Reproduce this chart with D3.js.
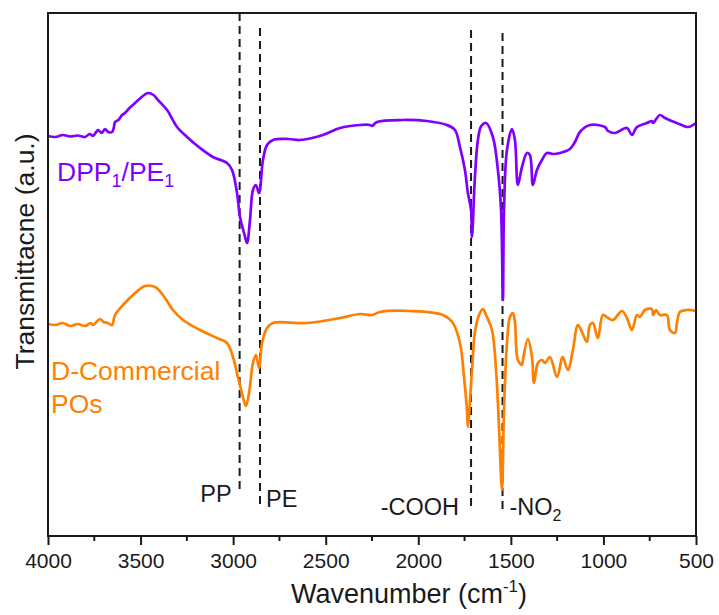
<!DOCTYPE html>
<html>
<head>
<meta charset="utf-8">
<script src="https://cdn.jsdelivr.net/npm/d3@7"></script>
<style>
  html, body { margin: 0; padding: 0; background: #fff; }
  svg { display: block; }
  text { font-family: "Liberation Sans", Arial, sans-serif; }
</style>
</head>
<body>
<svg id="chart" width="719" height="615"></svg>
<script>
// FTIR spectra: wavenumber (cm-1) and transmittance (a.u., curves offset vertically)
const dppWavenumber = [4000,3960,3920,3880,3840,3800,3775,3757,3740,3730,3710,3692,3675,3654,3645,3638,3620,3600,3584,3560,3530,3500,3480,3460,3430,3406,3357,3303,3249,3179,3109,3033,3006,2979,2963,2941,2925,2909,2893,2877,2860,2839,2817,2785,2700,2639,2515,2423,2315,2261,2250,2223,2083,1953,1845,1802,1775,1748,1732,1715,1710,1694,1678,1660,1634,1597,1570,1553,1543,1537,1521,1494,1478,1462,1440,1413,1397,1381,1359,1332,1305,1272,1235,1181,1154,1127,1073,992,975,938,873,846,819,765,738,732,695,668,603,543,500];
const dppTransmittance = [80,79.8,80.2,79.9,80.1,79.8,80.4,80.0,80.8,81.2,80.6,81.4,80.8,80.8,81.6,82.8,83.2,84.2,84.6,85.6,86.6,87.6,88.2,88.6,88.2,87.2,85.2,81.8,79.8,77.6,75.8,74.6,73.2,68.6,63.8,60.6,58.6,63.2,69.2,70.2,68.6,75.2,78.2,79.2,79.4,79.2,80.2,81.6,82.2,82.2,82.0,82.8,83.2,83.0,82.2,81.2,77.8,73.2,68.6,65.2,59.8,71.8,79.2,82.0,82.6,79.8,73.2,65.2,47.2,65.2,77.2,81.4,79.2,70.2,73.8,76.6,76.2,70.2,73.2,75.2,76.6,76.4,76.6,77.4,78.8,80.8,82.2,81.8,81.0,80.6,81.6,80.2,81.8,82.6,83.0,82.6,84.2,83.6,82.6,81.8,82.6];

const poWavenumber = [4000,3960,3920,3880,3840,3800,3770,3757,3719,3700,3676,3654,3638,3595,3541,3476,3422,3379,3325,3271,3179,3087,3033,3001,2974,2947,2931,2914,2893,2877,2860,2844,2817,2785,2601,2423,2315,2250,2207,2045,1867,1813,1775,1753,1737,1732,1710,1694,1672,1651,1634,1602,1580,1564,1548,1537,1521,1505,1489,1478,1462,1440,1435,1408,1386,1375,1354,1332,1316,1289,1251,1224,1219,1192,1165,1138,1116,1089,1073,1057,1030,1003,975,948,900,873,846,819,803,776,738,732,716,695,657,641,614,603,587,549,500];
const poTransmittance = [42.4,42.2,42.6,42.0,42.4,42.0,42.6,42.2,43.4,42.8,42.6,42.2,44.2,46.2,48.2,50.0,49.8,48.2,45.2,43.2,41.2,39.6,38.6,35.8,31.8,27.8,26.0,28.6,34.6,36.2,33.6,38.6,41.6,42.6,42.6,43.6,44.4,44.2,44.8,45.0,44.2,42.6,38.6,31.8,25.2,21.8,33.2,40.8,44.2,45.4,44.2,41.2,33.2,21.8,9.2,25.2,38.6,43.8,44.6,42.8,35.2,34.2,35.2,39.4,35.8,30.6,34.6,35.2,34.6,35.8,31.8,35.6,35.8,33.2,37.2,42.2,40.8,38.8,42.2,42.6,39.6,44.2,43.6,43.2,45.0,43.6,41.2,44.2,43.8,45.2,45.4,44.2,45.2,44.2,44.2,41.2,40.6,42.6,44.8,45.2,45.0];

// Characteristic bands marked with dashed guides
const bandWavenumber = [2965, 2855, 1715, 1545];
const bandLabel = ["PP", "PE", "-COOH", "-NO2"];

const xTicks = [4000, 3500, 3000, 2500, 2000, 1500, 1000, 500];
const xMinorTicks = [3750, 3250, 2750, 2250, 1750, 1250, 750];

const margin = { left: 48, top: 13, right: 696, bottom: 536 };
const svg = d3.select("#chart");

const x = d3.scaleLinear().domain([4000, 500]).range([margin.left, margin.right]);
const y = d3.scaleLinear().domain([0, 104.6]).range([margin.bottom, margin.top]);

const purple = "#7f00ff";
const orange = "#ff7f00";
const ink = "#1a1a1a";

// Dashed band guides: [top, bottom] extents in a.u.
const guideSpan = [[104.6, 9.2], [101.6, 6.2], [101.2, 5.2], [100.6, 4.8]];
bandWavenumber.forEach((wn, i) => {
  svg.append("line")
    .attr("x1", x(wn)).attr("x2", x(wn))
    .attr("y1", y(guideSpan[i][0])).attr("y2", y(guideSpan[i][1]))
    .attr("stroke", ink).attr("stroke-width", 2)
    .attr("stroke-dasharray", "8,5");
});

const line = d3.line()
  .x(d => x(d[0])).y(d => y(d[1]))
  .curve(d3.curveCatmullRom.alpha(0.5));

svg.append("path")
  .datum(poWavenumber.map((w, i) => [w, poTransmittance[i]]))
  .attr("d", line).attr("fill", "none")
  .attr("stroke", orange).attr("stroke-width", 2.7).attr("stroke-linejoin", "round");

svg.append("path")
  .datum(dppWavenumber.map((w, i) => [w, dppTransmittance[i]]))
  .attr("d", line).attr("fill", "none")
  .attr("stroke", purple).attr("stroke-width", 2.7).attr("stroke-linejoin", "round");

// Frame
svg.append("rect")
  .attr("x", margin.left).attr("y", margin.top)
  .attr("width", margin.right - margin.left).attr("height", margin.bottom - margin.top)
  .attr("fill", "none").attr("stroke", ink).attr("stroke-width", 2);

// Bottom axis: major and minor ticks
const axisG = svg.append("g").attr("transform", `translate(0,${margin.bottom})`);
axisG.call(d3.axisBottom(x).tickValues(xTicks).tickSize(9).tickPadding(8).tickFormat(d3.format("d")));
axisG.select(".domain").remove();
axisG.selectAll(".tick line").attr("stroke", ink).attr("stroke-width", 2);
axisG.selectAll(".tick text").attr("fill", ink).style("font-size", "21px")
  .style("font-family", "'Liberation Sans', Arial, sans-serif");
axisG.selectAll(".minor").data(xMinorTicks).enter().append("line")
  .attr("x1", d => x(d)).attr("x2", d => x(d))
  .attr("y1", 0).attr("y2", 5)
  .attr("stroke", ink).attr("stroke-width", 2);

// Axis titles
const xTitle = svg.append("text")
  .attr("x", 409).attr("y", 603)
  .attr("text-anchor", "middle").attr("fill", ink).style("font-size", "27px");
xTitle.append("tspan").text("Wavenumber (cm");
xTitle.append("tspan").text("-1").attr("dy", -11).style("font-size", "17px");
xTitle.append("tspan").text(")").attr("dy", 11);

svg.append("text")
  .attr("transform", `translate(34,${(margin.top + margin.bottom) / 2 - 23}) rotate(-90)`)
  .attr("text-anchor", "middle").attr("fill", ink).style("font-size", "26.5px")
  .text("Transmittacne (a.u.)");

// Series labels
const dppLabel = svg.append("text").attr("x", 57).attr("y", 181)
  .attr("fill", purple).style("font-size", "26.5px");
dppLabel.append("tspan").text("DPP");
dppLabel.append("tspan").text("1").attr("dy", 6).style("font-size", "18px");
dppLabel.append("tspan").text("/PE").attr("dy", -6);
dppLabel.append("tspan").text("1").attr("dy", 6).style("font-size", "18px");

svg.append("text").attr("x", 51).attr("y", 380)
  .attr("fill", orange).style("font-size", "26.5px").text("D-Commercial");
svg.append("text").attr("x", 51).attr("y", 413)
  .attr("fill", orange).style("font-size", "26.5px").text("POs");

// Band labels
svg.append("text").attr("x", x(bandWavenumber[0]) - 8).attr("y", 502)
  .attr("text-anchor", "end").attr("fill", ink).style("font-size", "23.5px").text(bandLabel[0]);
svg.append("text").attr("x", x(bandWavenumber[1]) + 6).attr("y", 507)
  .attr("fill", ink).style("font-size", "23.5px").text(bandLabel[1]);
svg.append("text").attr("x", x(bandWavenumber[2]) - 12).attr("y", 515)
  .attr("text-anchor", "end").attr("fill", ink).style("font-size", "23.5px").text(bandLabel[2]);
const no2 = svg.append("text").attr("x", x(bandWavenumber[3]) + 7).attr("y", 515)
  .attr("fill", ink).style("font-size", "23.5px");
no2.append("tspan").text(bandLabel[3].slice(0, 3));
no2.append("tspan").text(bandLabel[3].slice(3)).attr("dy", 6).style("font-size", "16px");
</script>
</body>
</html>
